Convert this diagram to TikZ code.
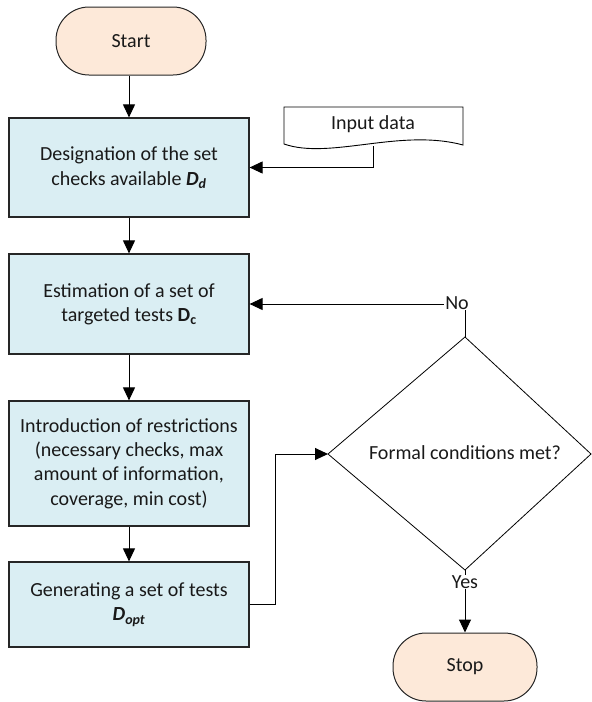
\documentclass[tikz,border=0pt]{standalone}
\usepackage{fontspec}
\setmainfont{Carlito}
\usetikzlibrary{arrows.meta}
\definecolor{procfill}{HTML}{DAEEF3}
\definecolor{termfill}{HTML}{FDE9D9}
\definecolor{inkline}{HTML}{262626}
\begin{document}
\begin{tikzpicture}[x=1pt,y=-1pt,
  every node/.style={font=\fontsize{20}{24.4}\selectfont, text=black!90},
  procbox/.style={draw=inkline, line width=1.2pt, fill=procfill,
    minimum width=240pt, align=center, inner sep=0pt},
  terminal/.style={draw=inkline, line width=1pt, fill=termfill,
    rounded corners=33pt, minimum height=68pt, inner sep=0pt},
  flow/.style={draw=black, line width=1pt, -{Triangle[length=13pt,width=12pt]}},
  link/.style={draw=black, line width=0.9pt},
  tag/.style={fill=white, inner sep=1pt}
]
\useasboundingbox (0,0) rectangle (592,702);

% process chain on the left
\node[terminal, minimum width=150pt] (start) at (131,41) {Start};
\node[procbox, minimum height=99pt] (p1) at (129,167.5)
  {Designation of the set\\checks available {\bfseries\itshape D\textsubscript{d}}};
\node[procbox, minimum height=100pt] (p2) at (129,304)
  {Estimation of a set of\\targeted tests {\bfseries D\textsubscript{c}}};
\node[procbox, minimum height=125pt] (p3) at (129,463.5)
  {Introduction of restrictions\\(necessary checks, max\\amount of information,\\coverage, min cost)};
\node[procbox, minimum height=85pt] (p4) at (129,604.5)
  {Generating a set of tests\\{\bfseries\itshape D\textsubscript{opt}}};

% input document with wavy bottom edge
\draw[link, fill=white] (284,107) -- (463,107) -- (463,145)
  .. controls (400,128) and (330,160) .. (284,144) -- cycle;
\node (input) at (373,124) {Input data};
\coordinate (inbottom) at (373,146);

% decision
\coordinate (dt) at (465,337);
\coordinate (dr) at (591,454);
\coordinate (db) at (465,570);
\coordinate (dl) at (328,454);
\draw[link, line width=0.8pt] (dt) -- (dr) -- (db) -- (dl) -- cycle;
\node (cond) at (465,453) {Formal conditions met?};

\node[terminal, minimum width=144pt] (stop) at (465,667) {Stop};

% connectors
\draw[flow] (p1.north |- start.south) -- (p1.north);
\draw[flow] (inbottom) |- (p1.east);
\draw[flow] (p1) -- (p2);
\draw[flow] (p2) -- (p3);
\draw[flow] (p3) -- (p4);
\draw[flow] (p4.east) -- ++(26,0) |- (dl);
\coordinate (nocorner) at (465,304);
\draw[flow] (dt) -- (nocorner) -- (p2.east);
\draw[flow] (db) -- (stop.north);

% branch labels drawn over the lines
\node[tag] (no) at (457,303) {No};
\node[tag] (yes) at (465,582) {Yes};
\end{tikzpicture}
\end{document}
